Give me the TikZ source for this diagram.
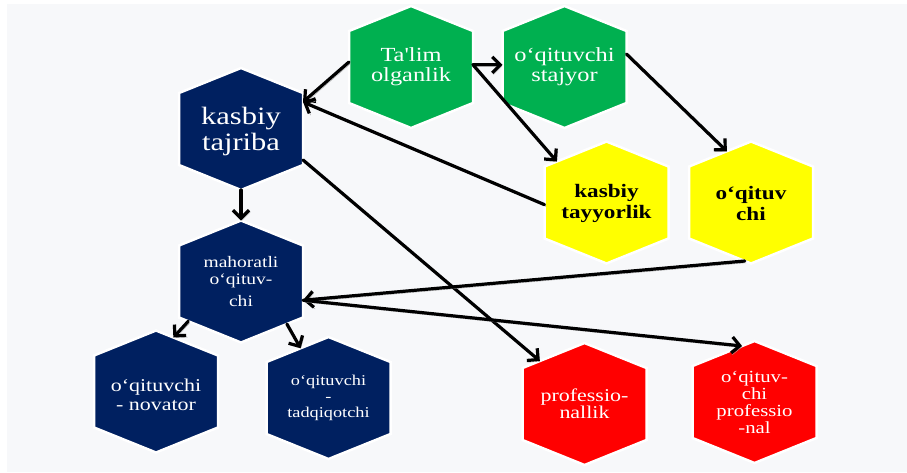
\documentclass[tikz,border=0pt]{standalone}
\usepackage{fontspec}
\setmainfont{Liberation Serif}
\newfontfamily\hexfont{Liberation Serif}[FakeStretch=1.22, Ligatures=TeXOff]
\usetikzlibrary{arrows.meta,calc}
\definecolor{navy}{HTML}{002060}
\definecolor{ogreen}{HTML}{00B050}
\definecolor{oyellow}{HTML}{FFFF00}
\definecolor{ored}{HTML}{FF0000}
\definecolor{bgc}{HTML}{F7F8FA}
\newcommand\hexat[4]{%
  \coordinate (#1-n)  at (#2,#3-61);
  \coordinate (#1-ne) at (#2+62,#3-36);
  \coordinate (#1-se) at (#2+62,#3+36);
  \coordinate (#1-s)  at (#2,#3+61);
  \coordinate (#1-sw) at (#2-62,#3+36);
  \coordinate (#1-nw) at (#2-62,#3-36);
  \path[hexshape,fill=#4] (#1-n) -- (#1-ne) -- (#1-se) -- (#1-s) -- (#1-sw) -- (#1-nw) -- cycle;
}
\tikzset{
  hexshape/.style={draw=white, line width=2.5pt, line join=miter},
  hextxt/.style={align=center, inner sep=0pt},
  conn/.style={draw=black, line width=3.2pt, line cap=round, line join=round,
    -{Straight Barb[length=8pt,width=16pt]},
    preaction={draw=black!35, transform canvas={shift={(1.3pt,-1.8pt)}}}}
}
\begin{document}
\begin{tikzpicture}[x=1pt,y=-1pt]
\useasboundingbox (0,0) rectangle (907,472);
\fill[bgc] (7,4) rectangle (907,472);
% hexagons
\hexat{kt}{241}{129}{navy}
\hexat{talim}{411}{67}{ogreen}
\hexat{staj}{564.5}{67}{ogreen}
\hexat{tayy}{606.5}{202.5}{oyellow}
\hexat{oq}{751}{202.5}{oyellow}
\hexat{mah}{241}{281.5}{navy}
\hexat{nov}{156}{391.5}{navy}
\hexat{tad}{328.5}{398}{navy}
\hexat{prl}{584.5}{404}{ored}
\hexat{prf}{754.5}{402}{ored}
% connectors
\draw[conn] ($(talim-nw)!0.43!(talim-sw)$) -- ($(kt-ne)!0.125!(kt-se)$);
\draw[conn] ($(talim-ne)!0.47!(talim-se)$) -- ($(staj-nw)!0.47!(staj-sw)$);
\draw[conn] ($(talim-ne)!0.47!(talim-se)$) -- ($(tayy-nw)!0.2!(tayy-n)$);
\draw[conn] ($(staj-ne)!0.32!(staj-se)$) -- ($(oq-nw)!0.61!(oq-n)$);
\draw[conn] ($(tayy-nw)!0.53!(tayy-sw)$) -- ($(kt-ne)!0.125!(kt-se)$);
\draw[conn] (kt-s) -- (mah-n);
\draw[conn] ($(kt-ne)!0.93!(kt-se)$) -- ($(prl-nw)!0.28!(prl-n)$);
\draw[conn] ($(oq-s)!0.1!(oq-sw)$) -- ($(mah-ne)!0.76!(mah-se)$);
\draw[conn] ($(mah-ne)!0.76!(mah-se)$) -- ($(prf-nw)!0.8!(prf-n)$);
\draw[conn] ($(mah-sw)!0.15!(mah-s)$) -- ($(nov-n)!0.28!(nov-ne)$);
\draw[conn] ($(mah-s)!0.74!(mah-se)$) -- ($(tad-nw)!0.55!(tad-n)$);
% texts
\node[hextxt, text=white, font=\hexfont\fontsize{25}{26}\selectfont] (ktt) at (241,131) {kasbiy\\tajriba};
\node[hextxt, text=white, font=\hexfont\fontsize{20}{20}\selectfont] (talimt) at (411,67) {Ta'lim\\olganlik};
\node[hextxt, text=white, font=\hexfont\fontsize{20}{20}\selectfont] (stajt) at (564.5,67) {o‘qituvchi\\stajyor};
\node[hextxt, text=black, font=\hexfont\bfseries\fontsize{19}{21}\selectfont] (tayyt) at (606.5,203) {kasbiy\\tayyorlik};
\node[hextxt, text=black, font=\hexfont\bfseries\fontsize{19}{21}\selectfont] (oqt) at (751,203) {o‘qituv\\chi};
\node[hextxt, text=white, font=\hexfont\fontsize{16}{16.5}\selectfont] (maht) at (241,282) {mahoratli\\o‘qituv-\\[6pt]chi};
\node[hextxt, text=white, font=\hexfont\fontsize{18}{19}\selectfont] (novt) at (156,395) {o‘qituvchi\\- novator};
\node[hextxt, text=white, font=\hexfont\fontsize{15}{16}\selectfont] (tadt) at (328.5,398) {o‘qituvchi\\-\\tadqiqotchi};
\node[hextxt, text=white, font=\hexfont\fontsize{18}{15.5}\selectfont] (prlt) at (584.5,404) {professio-\\nallik};
\node[hextxt, text=white, font=\hexfont\fontsize{17}{17}\selectfont] (prft) at (754.5,402) {o‘qituv-\\chi\\professio\\-nal};
\end{tikzpicture}
\end{document}
